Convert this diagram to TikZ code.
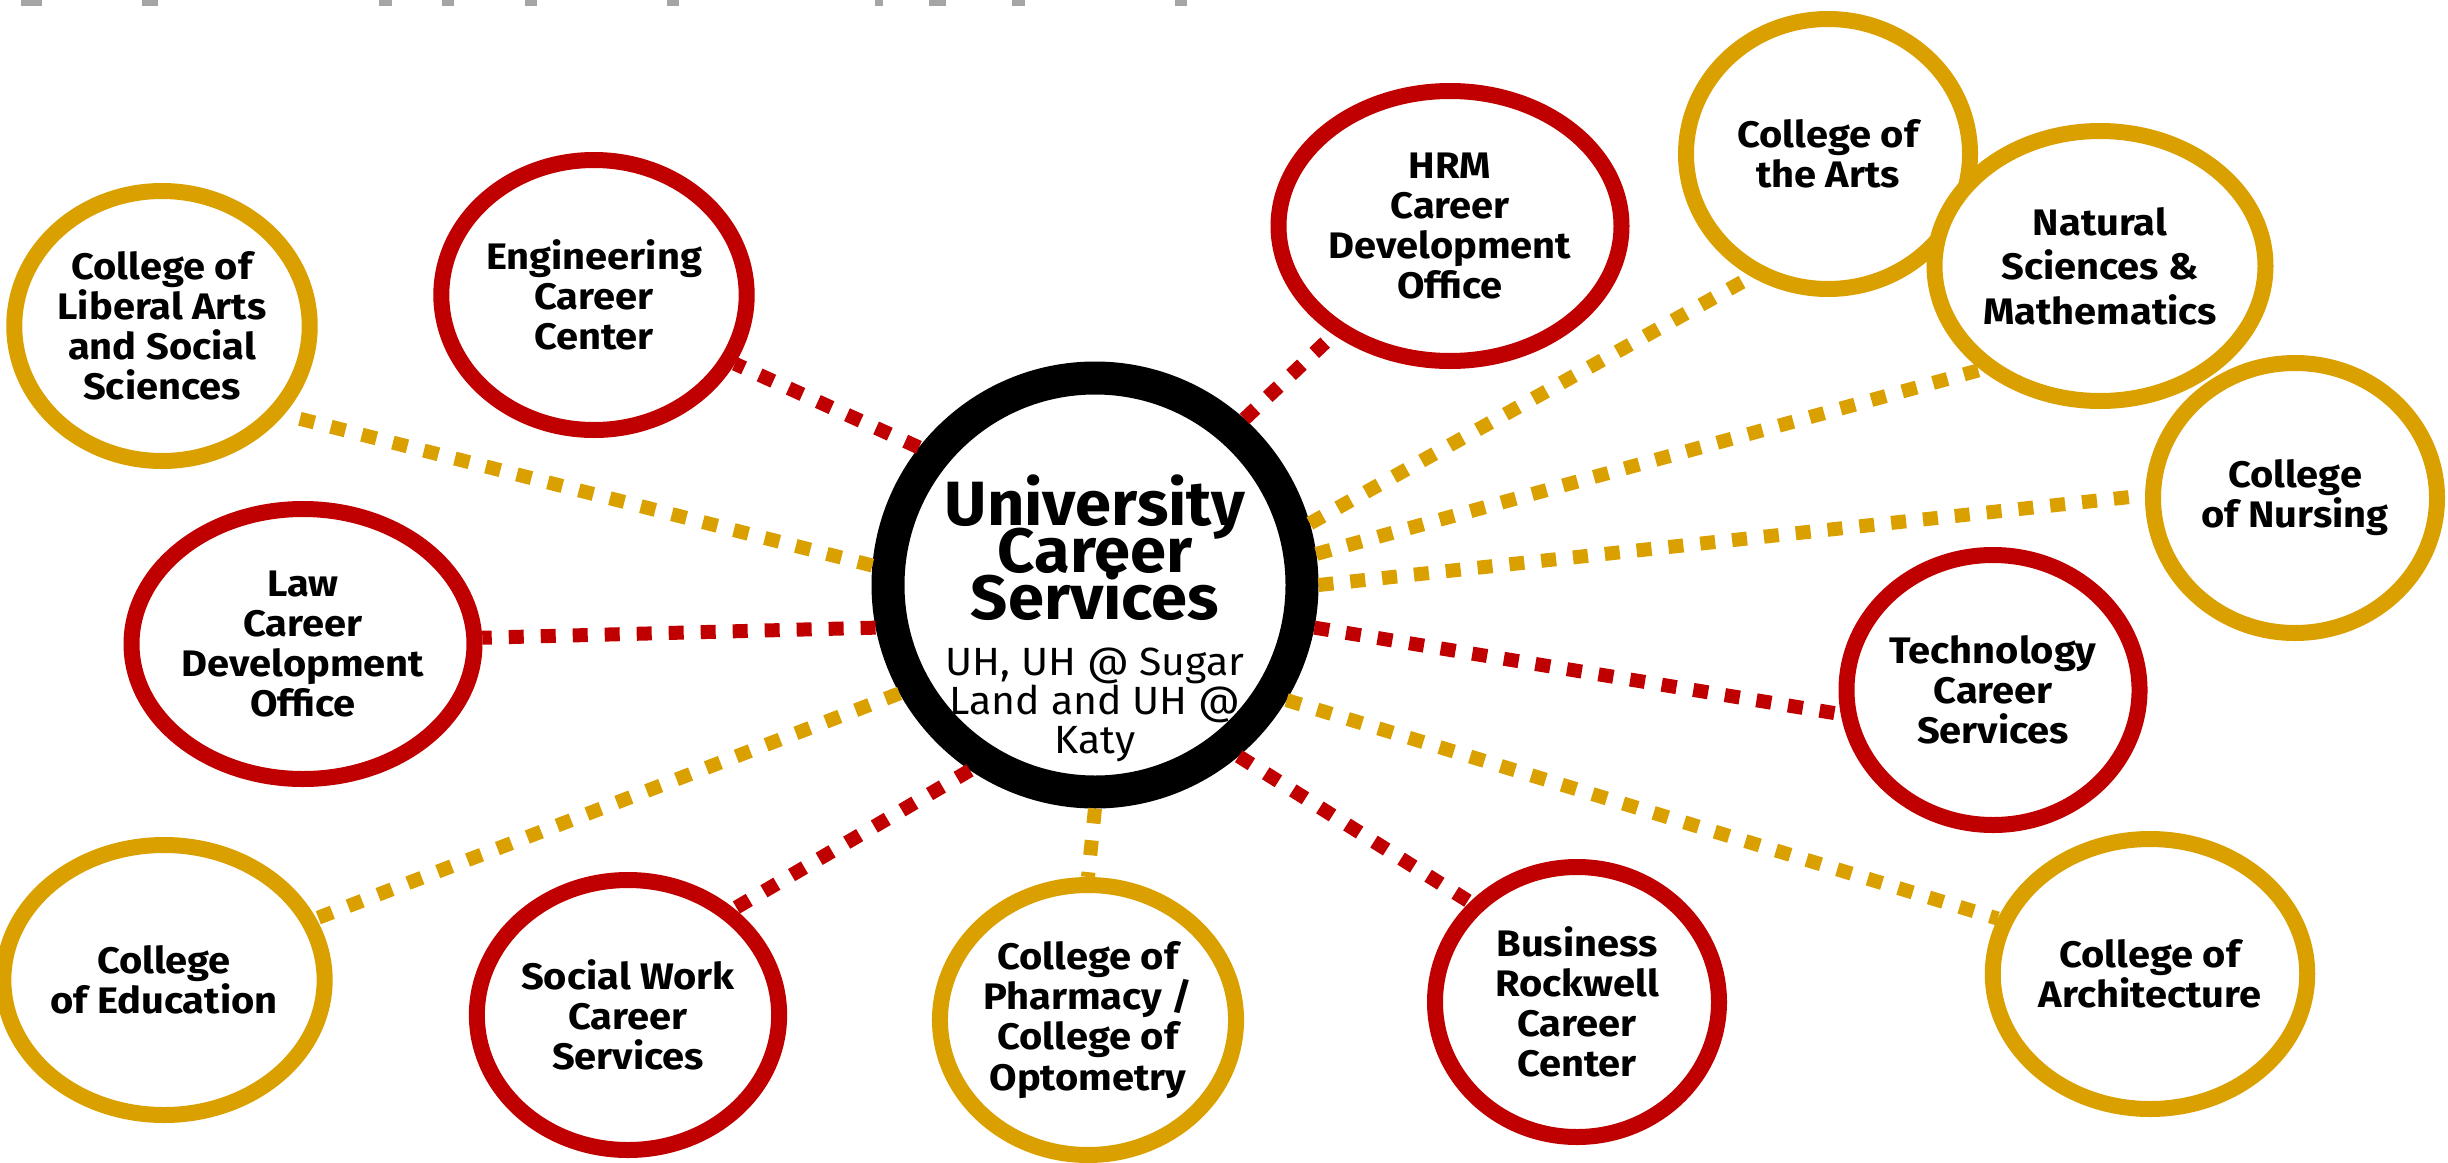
\documentclass[tikz,border=0pt]{standalone}
\usepackage{fontspec}
\setmainfont{Fira Sans}
\newfontfamily\unitfamily[FakeStretch=1.08]{Fira Sans}
\newfontfamily\hubfamily[FakeStretch=1.04]{Fira Sans}
\usetikzlibrary{shapes.geometric}

\definecolor{uhred}{RGB}{192,0,0}
\definecolor{uhgold}{RGB}{218,160,0}
\definecolor{fraggray}{RGB}{165,165,165}

\newcommand{\unitfont}{\unitfamily\fontsize{10.5}{11.4}\selectfont\bfseries}
\newcommand{\nsmfont}{\unitfamily\fontsize{10.5}{12.7}\selectfont\bfseries}
\newcommand{\hubtitlefont}{\hubfamily\fontsize{17.8}{13.4}\selectfont\bfseries\lineskiplimit=-100pt}
\newcommand{\hubsubfont}{\hubfamily\fontsize{11.2}{11.1}\selectfont\lineskiplimit=-100pt}

\tikzset{
    hubring/.style={circle, draw=black, fill=white, line width=0.33cm, minimum size=4.14cm, inner sep=0pt},
    hubtext/.style={align=center, inner sep=0pt},
    redunit/.style={ellipse, draw=uhred, fill=white, line width=0.16cm, minimum width=2.84cm, minimum height=2.70cm, inner sep=0pt, align=center, font=\unitfont},
    goldunit/.style={redunit, draw=uhgold},
    redlink/.style={draw=uhred, line width=0.14cm, dash pattern=on 0.15cm off 0.17cm},
    goldlink/.style={redlink, draw=uhgold},
    topfrag/.style={fill=fraggray},
}

\begin{document}
\begin{tikzpicture}
    \useasboundingbox (0,0) rectangle (24.48,11.62);

    % cut-off bits along the top edge
    \foreach \a/\b in {0.21/0.42, 1.42/1.58, 3.79/3.92, 4.42/4.54, 5.25/5.37, 6.67/6.79, 8.75/8.83, 9.29/9.46, 10.12/10.25, 11.75/11.87}
        \fill[topfrag] (\a,11.56) rectangle (\b,11.62);

    % hub
    \node[hubring] (hub) at (10.95,5.77) {};
    \node[hubtext, font=\hubtitlefont] (hubname) at ([yshift=0.37cm]hub.center) {University\\Career\\Services};
    \node[hubtext, font=\hubsubfont] (hubplace) at ([yshift=-1.2cm]hub.center) {UH, UH @ Sugar\\Land and UH @\\Katy};

    % colleges and career offices
    \node[goldunit] (libarts) at (1.62,8.36) {College of\\Liberal Arts\\and Social\\Sciences};
    \node[redunit] (eng) at (5.94,8.67) {Engineering\\Career\\Center};
    \node[redunit] (hrm) at (14.50,9.36) {HRM\\Career\\Development\\Office};
    \node[goldunit] (arts) at (18.28,10.08) {College of\\the Arts};
    \node[goldunit, font=\nsmfont] (nsm) at (21.00,8.96) {Natural\\Sciences \&\\Mathematics};
    \node[goldunit] (nursing) at (22.95,6.64) {College\\of Nursing};
    \node[redunit] (tech) at (19.93,4.72) {Technology\\Career\\Services};
    \node[goldunit] (arch) at (21.50,1.88) {College of\\Architecture};
    \node[redunit] (bus) at (15.77,1.60) {Business\\Rockwell\\Career\\Center};
    \node[goldunit] (pharm) at (10.88,1.42) {College of\\Pharmacy /\\College of\\Optometry};
    \node[redunit] (socwork) at (6.28,1.47) {Social Work\\Career\\Services};
    \node[goldunit] (edu) at (1.64,1.82) {College\\of Education};
    \node[redunit] (law) at (3.03,5.18) {Law\\Career\\Development\\Office};

    % links
    \draw[goldlink] (hub.175) -- (libarts.-36);
    \draw[redlink] (hub.142) -- (eng.-26);
    \draw[redlink] (hub.48) -- (hrm.-137);
    \draw[goldlink] (hub.16) -- (arts.-122);
    \draw[goldlink] (hub.8) -- (nsm.-139);
    \draw[goldlink] (hub.0) -- (nursing.179);
    \draw[redlink] (hub.-11) -- (tech.-171);
    \draw[goldlink] (hub.-31) -- (arch.160);
    \draw[redlink] (hub.-50) -- (bus.137);
    \draw[goldlink] (hub.-90) -- (pharm.90);
    \draw[redlink] (hub.236) -- (socwork.45);
    \draw[goldlink] (hub.209) -- (edu.22);
    \draw[redlink] (hub.191) -- (law.2);
\end{tikzpicture}
\end{document}
